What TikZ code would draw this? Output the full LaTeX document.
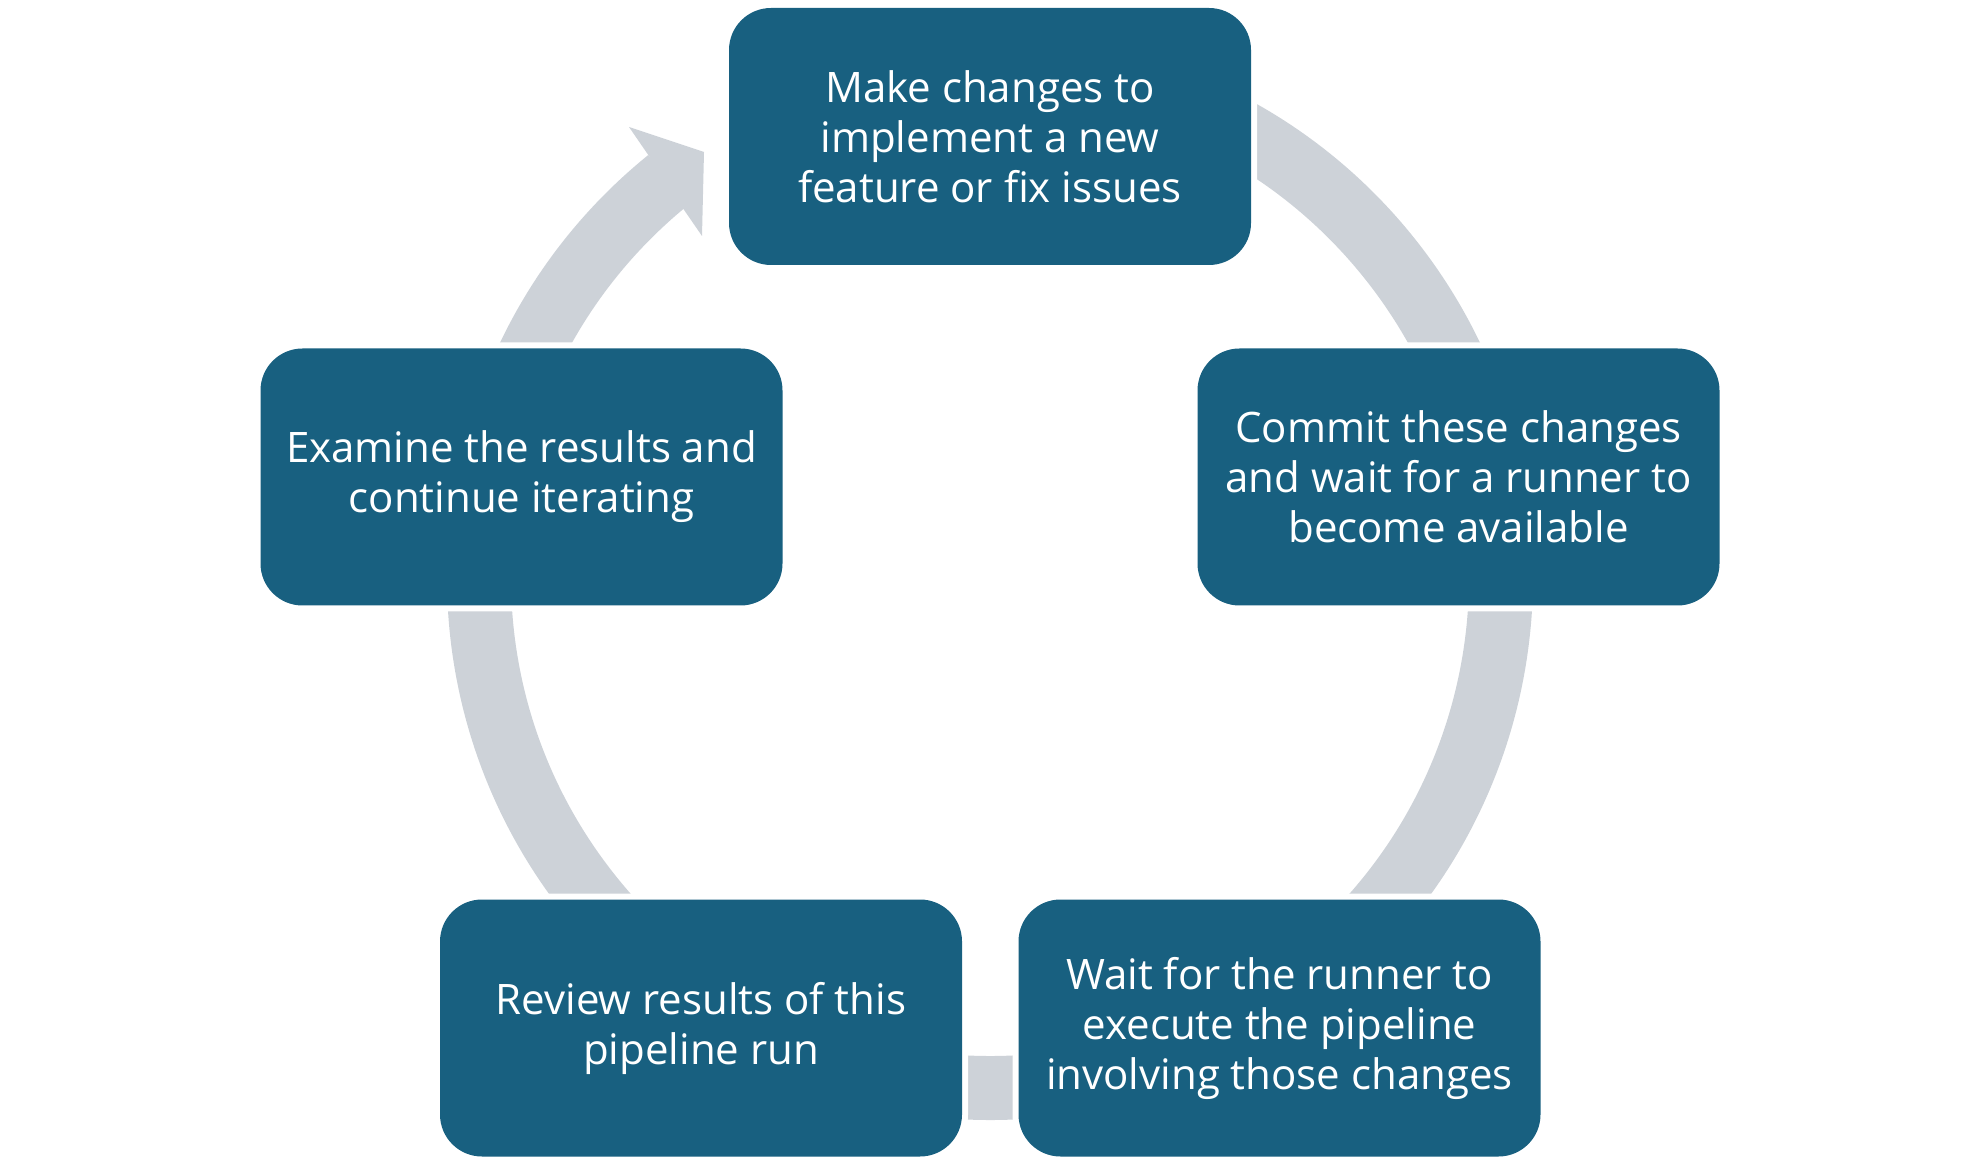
\documentclass[tikz,border=0pt]{standalone}
\usepackage{fontspec}
\setmainfont{Open Sans}
\usepackage{tikz}
\usetikzlibrary{calc,positioning}
\definecolor{stepblue}{RGB}{24,96,128}
\definecolor{ringgray}{RGB}{205,210,216}

\begin{document}
\begin{tikzpicture}[x=0.5pt, y=0.5pt,
  stepbox/.style={rectangle, rounded corners=21pt, fill=stepblue, text=white,
    minimum width=261pt, minimum height=128.5pt, align=center, inner sep=0pt,
    font=\fontsize{21}{25}\selectfont,
    preaction={draw=white, line width=6pt}},
  ring/.style={draw=ringgray, line width=32pt}]
  \useasboundingbox (0,0) rectangle (1980,1168);
  \coordinate (c) at (990,591);

  % ring with the head at the top left
  \draw[ring] ($(c)+(129:511)$) arc[start angle=129, end angle=475, radius=511];
  \coordinate (hout) at ($(c)+(129:543)$);
  \coordinate (hin) at ($(c)+(129.8:479)$);
  \fill[ringgray] (hout) -- (629,1041) -- (704,1016) -- (702,932) -- (hin) -- cycle;

  % steps
  \node[stepbox] (make) at (990,1031.5) {Make changes to\\implement a new\\feature or fix issues};
  \node[stepbox] (commit) at (1458.5,691) {Commit these changes\\and wait for a runner to\\become available};
  \node[stepbox] (wait) at (1279.5,140) {Wait for the runner to\\execute the pipeline\\involving those changes};
  \node[stepbox] (review) at (701,140) {Review results of this\\pipeline run};
  \node[stepbox] (examine) at (521.5,691) {Examine the results and\\continue iterating};
\end{tikzpicture}
\end{document}
